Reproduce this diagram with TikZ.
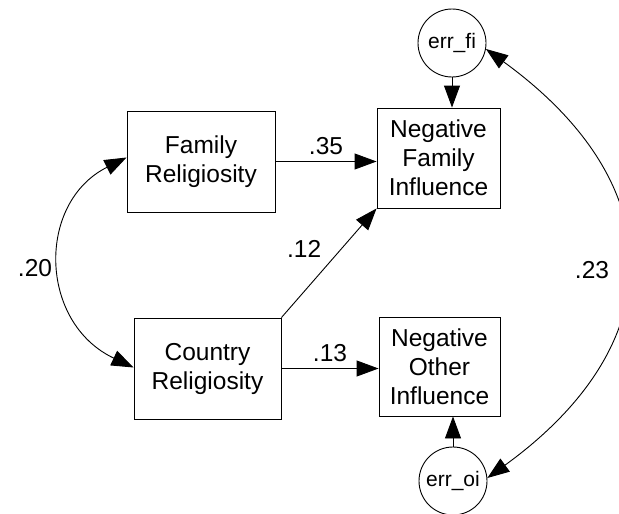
\documentclass[tikz,border=0pt]{standalone}
\usepackage{fontspec}
\setmainfont{Liberation Sans}
\usepackage{tikz}
\usetikzlibrary{arrows.meta,positioning}

\begin{document}
\begin{tikzpicture}[x=1pt, y=-1pt,
  obs/.style={draw, line width=0.9pt, align=center, font=\fontsize{24.5}{29}\selectfont, inner sep=0pt},
  err/.style={draw, line width=0.9pt, circle, minimum size=68pt, inner sep=0pt, font=\fontsize{21}{25}\selectfont},
  coef/.style={font=\fontsize{24.5}{29}\selectfont},
  arrow/.style={-{Triangle[length=22pt,width=16pt]}, line width=0.9pt},
  bidir/.style={{Triangle[length=22pt,width=16pt]}-{Triangle[length=22pt,width=16pt]}, line width=0.9pt}
]
\useasboundingbox (0,0) rectangle (619,514);

% Variables observadas
\node[obs, minimum width=148pt, minimum height=101pt] (famrel) at (201,161.5) {Family\\Religiosity};
\node[obs, minimum width=147pt, minimum height=101pt] (cntrel) at (207.5,368.5) {Country\\Religiosity};
\node[obs, minimum width=123pt, minimum height=100pt] (negfam) at (438.5,158) {Negative\\Family\\Influence};
\node[obs, minimum width=121pt, minimum height=99pt]  (negoth) at (439.5,366.5) {Negative\\Other\\Influence};

% Errores
\node[err] (errfi) at (452,43)  {err\_fi};
\node[err] (erroi) at (453,481) {err\_oi};

% Flechas
\draw[arrow] (famrel.east) -- node[coef, above=3pt]{.35} (famrel.east -| negfam.west);
\draw[arrow] (cntrel.east) -- node[coef, above=3pt]{.13} (cntrel.east -| negoth.west);
\draw[arrow] (cntrel.north east) -- node[coef, above left=2pt and 4pt]{.12} (negfam.south west);
\draw[arrow] (errfi.south) -- (errfi.south |- negfam.north);
\draw[arrow] (erroi.north) -- (erroi.north |- negoth.south);

% Covarianzas
\draw[bidir] ([yshift=1pt]cntrel.west) .. controls +(-95,-45) and +(-90,45) .. ([yshift=4pt]famrel.west);
\node[coef] (c20) at (35,268) {.20};
\draw[bidir] (errfi.-10) .. controls +(186,135) and +(186,-135) .. (erroi.5);
\node[coef] (c23) at (592,270) {.23};
\end{tikzpicture}
\end{document}
